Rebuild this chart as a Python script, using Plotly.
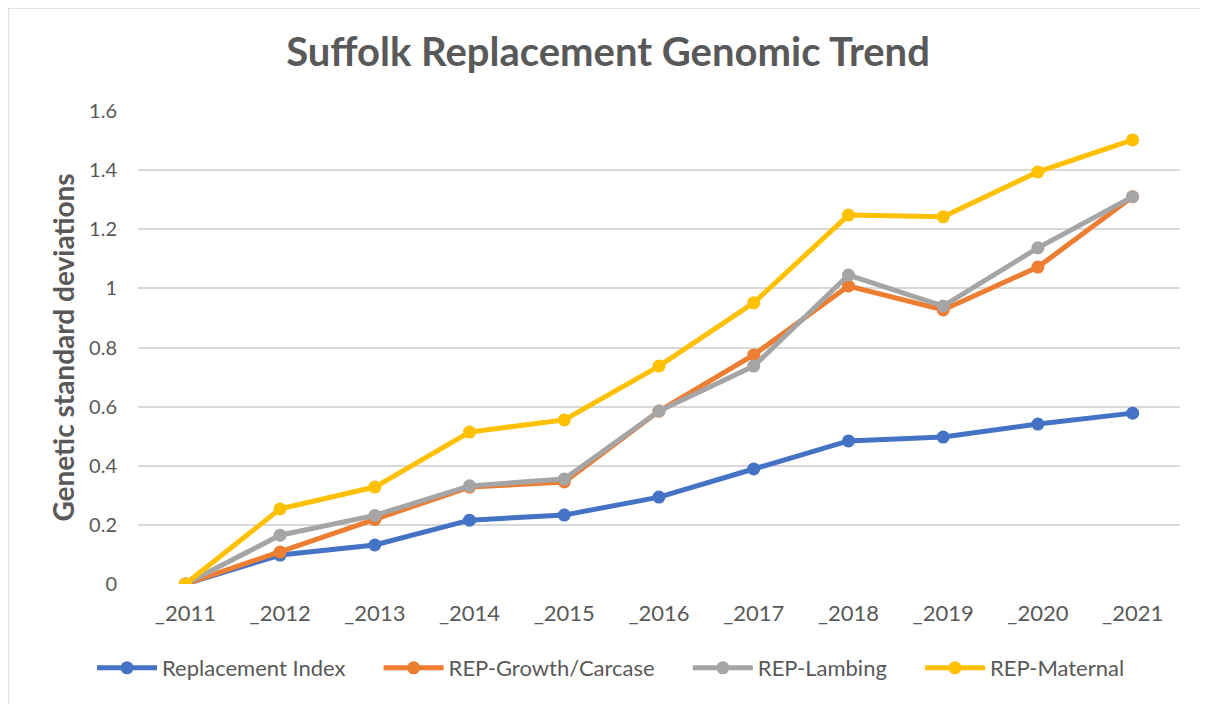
import plotly.graph_objects as go

years = ["_2011", "_2012", "_2013", "_2014", "_2015", "_2016", "_2017", "_2018", "_2019", "_2020", "_2021"]
replacement_index = [0, 0.098, 0.132, 0.216, 0.233, 0.294, 0.389, 0.484, 0.497, 0.541, 0.578]
rep_growth = [0, 0.108, 0.218, 0.328, 0.345, 0.585, 0.775, 1.008, 0.927, 1.072, 1.31]
rep_lambing = [0, 0.165, 0.232, 0.332, 0.355, 0.585, 0.737, 1.045, 0.94, 1.137, 1.31]
rep_maternal = [0, 0.254, 0.328, 0.514, 0.555, 0.737, 0.951, 1.248, 1.242, 1.394, 1.502]
y_ticks = [0, 0.2, 0.4, 0.6, 0.8, 1.0, 1.2, 1.4, 1.6]
y_labels = ["0", "0.2", "0.4", "0.6", "0.8", "1", "1.2", "1.4", "1.6"]
series_names = ["Replacement Index", "REP-Growth/Carcase", "REP-Lambing", "REP-Maternal"]
series_colors = ["#4472C4", "#ED7D31", "#A5A5A5", "#FFC000"]
series_values = [replacement_index, rep_growth, rep_lambing, rep_maternal]

PAD = "\u00a0" * 5

fig = go.Figure()
for i, (name, vals, col) in enumerate(zip(series_names, series_values, series_colors)):
    label = name + (PAD if i < len(series_names) - 1 else "")
    fig.add_trace(go.Scatter(
        x=years, y=vals, name=label, mode="lines+markers",
        line=dict(color=col, width=5),
        marker=dict(color=col, size=13),
        hovertemplate=name + ": %{y}<extra></extra>",
    ))

# page body has an 8px margin, so the figure is laid out 8px inward
W, H = 1200, 696
L, R, T, B = 130, 28, 103, 120
pw, ph = W - L - R, H - T - B

fig.update_layout(
    width=W, height=H,
    margin=dict(l=L, r=R, t=T, b=B),
    paper_bgcolor="white", plot_bgcolor="white",
    font=dict(family="Lato", color="#595959"),
    title=dict(text="<b>Suffolk Replacement Genomic Trend</b>", x=(608 - 8) / W, xanchor="center",
               y=1 - 44 / H, yanchor="middle", font=dict(size=40, color="#595959")),
    xaxis=dict(range=[-0.5, 10.5], showgrid=False, showline=False, zeroline=False,
               tickfont=dict(size=22, color="#595959"), ticks="", ticklabelstandoff=14,
               fixedrange=True),
    yaxis=dict(range=[0, 1.6], tickvals=y_ticks, ticktext=y_labels,
               showgrid=True, gridcolor="#D9D9D9", gridwidth=2, zeroline=False,
               showline=False, tickfont=dict(size=20, color="#595959"), ticks="",
               ticklabelstandoff=20,
               title=dict(text="<b>Genetic standard deviations</b>", font=dict(size=28, color="#595959"),
                          standoff=6)),
    legend=dict(orientation="h", x=(611 - 8 - L) / pw, xanchor="center", y=-(668 - 584) / ph,
                yanchor="middle", font=dict(size=22, color="#595959"), itemwidth=60, tracegroupgap=0),
    showlegend=True,
)

# thin chart-area border (top and left visible)
fig.add_shape(type="line", xref="paper", yref="paper",
              x0=(0 - L) / pw, x1=(W - L) / pw, y0=(H - B) / ph, y1=(H - B) / ph,
              line=dict(color="#D9D9D9", width=1.5))
fig.add_shape(type="line", xref="paper", yref="paper",
              x0=(0 - L) / pw, x1=(0 - L) / pw, y0=(H - B) / ph, y1=-B / ph,
              line=dict(color="#D9D9D9", width=1.5))

fig.write_html("out.html")
